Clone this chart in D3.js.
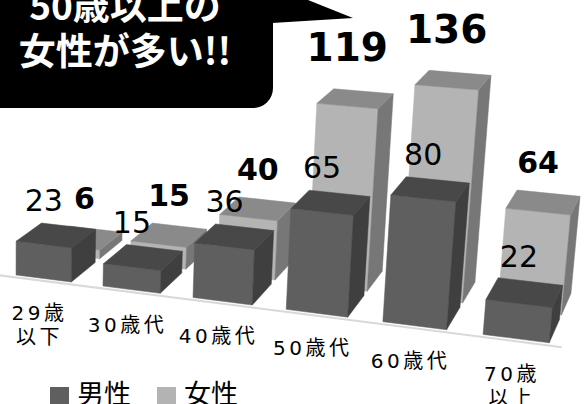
<!DOCTYPE html>
<html>
<head>
<meta charset="utf-8">
<script src="https://cdn.jsdelivr.net/npm/d3@7"></script>
<style>
  body { margin: 0; background: #fff; }
  svg { display: block; }
</style>
</head>
<body>
<div id="chart"></div>
<script>
// data
const categories = ["29歳以下", "30歳代", "40歳代", "50歳代", "60歳代", "70歳以上"];
const categoryLines = [["29歳", "以下"], ["30歳代"], ["40歳代"], ["50歳代"], ["60歳代"], ["70歳", "以上"]];
const seriesNames = ["男性", "女性"];
const maleValues = [23, 15, 36, 65, 80, 22];
const femaleValues = [6, 15, 40, 119, 136, 64];
const calloutLines = ["50歳以上の", "女性が多い!!"];

const width = 588, height = 404;

const svg = d3.select("#chart").append("svg")
    .attr("width", width)
    .attr("height", height);

// 3d world -> screen (simple perspective camera)
const rotA = 22.5 * Math.PI / 180;
const tiltB = 17.9 * Math.PI / 180;
const camD = 21.5, focal = 1977, cx = 0.7, cy = 273;

function project(X, Y, Z) {
    const u = X * Math.cos(rotA) + Z * Math.sin(rotA);
    const z1 = -X * Math.sin(rotA) + Z * Math.cos(rotA);
    const v = Y * Math.cos(tiltB) + z1 * Math.sin(tiltB);
    const w = -Y * Math.sin(tiltB) + z1 * Math.cos(tiltB);
    const s = focal / (camD + w);
    return [cx + u * s, cy - v * s];
}

// scales in world units
const x = d3.scaleBand().domain(categories).range([0, 6]).paddingInner(0.36).paddingOuter(0.18);
const z = d3.scaleBand().domain(seriesNames).range([0, 1.65]).paddingInner(1 / 6);
const y = d3.scaleLinear().domain([0, 140]).range([0, 2.324]);

const palette = {
    "男性": { front: "#5f5f5f", top: "#484848", side: "#3f3f3f", legend: "#5f5f5f" },
    "女性": { front: "#b4b4b4", top: "#8a8a8a", side: "#777777", legend: "#b3b3b3" }
};

const line = d3.line();

// floor edge
svg.append("path")
    .attr("d", line([project(-0.05, 0, -0.08), project(5.95, 0, -0.08)]))
    .attr("stroke", "#d9d9d9")
    .attr("stroke-width", 2)
    .attr("fill", "none");

const bars = [];
seriesNames.forEach((s, si) => {
    const vals = si === 0 ? maleValues : femaleValues;
    categories.forEach((c, i) => bars.push({ series: s, cat: c, value: vals[i] }));
});

// back row first, then front row, left to right
const drawOrder = bars.slice().sort((a, b) =>
    d3.descending(z(a.series), z(b.series)) || d3.ascending(x(a.cat), x(b.cat)));

const gBars = svg.append("g");
drawOrder.forEach(d => {
    const x0 = x(d.cat), x1 = x0 + x.bandwidth();
    const z0 = z(d.series), z1 = z0 + z.bandwidth();
    const h = y(d.value);
    const col = palette[d.series];
    const faces = [
        { pts: [[x0, 0, z0], [x1, 0, z0], [x1, h, z0], [x0, h, z0]], fill: col.front },
        { pts: [[x1, 0, z0], [x1, 0, z1], [x1, h, z1], [x1, h, z0]], fill: col.side },
        { pts: [[x0, h, z0], [x1, h, z0], [x1, h, z1], [x0, h, z1]], fill: col.top }
    ];
    const g = gBars.append("g");
    faces.forEach(f => {
        g.append("path")
            .attr("d", line(f.pts.map(p => project(p[0], p[1], p[2]))) + "Z")
            .attr("fill", f.fill)
            .attr("stroke", f.fill)
            .attr("stroke-width", 0.5)
            .attr("stroke-linejoin", "round");
    });
});

// value labels
const gLabels = svg.append("g").attr("font-family", "'DejaVu Sans', sans-serif");
bars.forEach(d => {
    const female = d.series === "女性";
    const xc = x(d.cat) + x.bandwidth() / 2;
    const z0 = z(d.series), z1 = z0 + z.bandwidth();
    const h = y(d.value);
    const big = female && d.value >= 100;
    // small back-row bars carry their label over the top face
    const zx = female && d.value < 50 ? (z0 + z1) / 2 : z0;
    const px = project(xc, h, zx)[0];
    const py = project(xc, h, z1)[1] - (big ? 30 : female ? 20 : 15);
    gLabels.append("text")
        .attr("x", px)
        .attr("y", py)
        .attr("text-anchor", "middle")
        .attr("font-size", big ? 39 : 30)
        .attr("font-weight", female ? "bold" : "normal")
        .attr("fill", "#000")
        .text(d.value);
});

// category labels
const gCats = svg.append("g")
    .attr("font-family", "'DejaVu Sans', 'Noto Sans CJK JP', sans-serif")
    .attr("font-size", 20)
    .attr("letter-spacing", 3.5)
    .attr("fill", "#000");
categories.forEach((c, i) => {
    const p = project(x(c) + x.bandwidth() / 2, 0, 0);
    categoryLines[i].forEach((t, j) => {
        gCats.append("text")
            .attr("x", p[0] - 4)
            .attr("y", p[1] + 42 + j * 24)
            .attr("text-anchor", "middle")
            .text(t);
    });
});

// legend
const legend = svg.append("g")
    .attr("font-family", "'Noto Sans CJK JP', sans-serif")
    .attr("font-size", 27);
const legendX = d3.scalePoint().domain(seriesNames).range([50, 157]);
seriesNames.forEach(s => {
    legend.append("rect")
        .attr("x", legendX(s))
        .attr("y", 387)
        .attr("width", 19)
        .attr("height", 19)
        .attr("fill", palette[s].legend);
    legend.append("text")
        .attr("x", legendX(s) + 27)
        .attr("y", 404)
        .attr("fill", "#000")
        .text(s);
});

// callout bubble
const callout = svg.append("g");
callout.append("path")
    .attr("d", "M270,0 L308,0 L353,18 L272,23 Z")
    .attr("fill", "#000");
callout.append("rect")
    .attr("x", -30)
    .attr("y", -30)
    .attr("width", 303)
    .attr("height", 138)
    .attr("rx", 20)
    .attr("fill", "#000");
callout.selectAll("text")
    .data(calloutLines)
    .join("text")
    .attr("x", 125)
    .attr("y", (d, i) => 20 + i * 45)
    .attr("text-anchor", "middle")
    .attr("font-family", "'Noto Sans CJK JP', sans-serif")
    .attr("font-weight", "bold")
    .attr("font-size", 37)
    .attr("fill", "#fff")
    .text(d => d);
</script>
</body>
</html>
